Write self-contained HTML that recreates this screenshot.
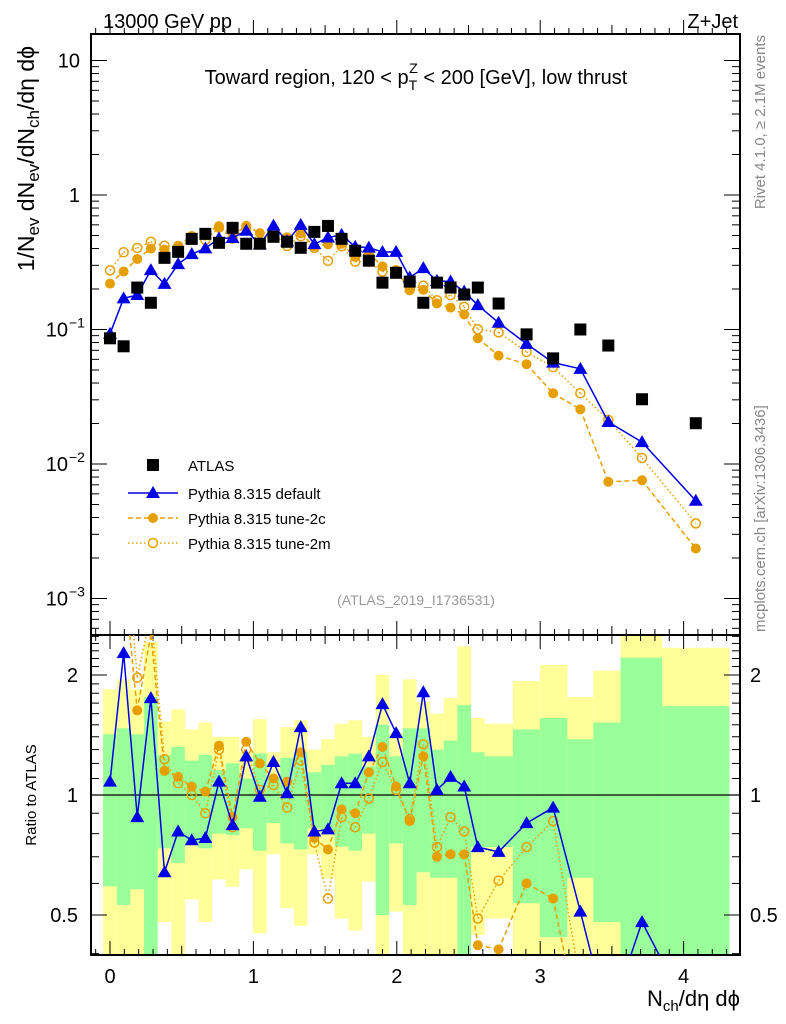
<!DOCTYPE html>
<html><head><meta charset="utf-8"><style>
html,body{margin:0;padding:0;background:#fff;width:786px;height:1024px;overflow:hidden;}
svg{display:block;font-family:"Liberation Sans",sans-serif;}
</style></head><body>
<svg id="chart" width="786" height="1024" viewBox="0 0 786 1024" xmlns="http://www.w3.org/2000/svg">
<g id="bands"></g>
<g id="axes"></g>
<g id="series"></g>
<text x="103" y="28" font-size="20">13000 GeV pp</text>
<text x="738" y="28" font-size="20" text-anchor="end">Z+Jet</text>
<text x="416" y="84" font-size="20" text-anchor="middle">Toward region, 120 &lt; p<tspan font-size="14" dy="6">T</tspan><tspan font-size="14" dx="-8" dy="-17">Z</tspan><tspan dy="11"> &lt; 200 [GeV], low thrust</tspan></text>
<text x="416" y="605" font-size="14" fill="#999" text-anchor="middle">(ATLAS_2019_I1736531)</text>
<text transform="translate(765,35) rotate(-90)" font-size="15" fill="#888" text-anchor="end">Rivet 4.1.0, ≥ 2.1M events</text>
<text transform="translate(765,632) rotate(-90)" font-size="15" fill="#888" text-anchor="start">mcplots.cern.ch [arXiv:1306.3436]</text>
<text transform="translate(34,46) rotate(-90)" font-size="23" text-anchor="end">1/N<tspan font-size="17" dy="5">ev</tspan><tspan dy="-5"> dN</tspan><tspan font-size="17" dy="5">ev</tspan><tspan dy="-5">/dN</tspan><tspan font-size="17" dy="5">ch</tspan><tspan dy="-5">/dη dϕ</tspan></text>
<text transform="translate(36,795) rotate(-90)" font-size="15" text-anchor="middle">Ratio to ATLAS</text>
<text x="740" y="1006" font-size="22" text-anchor="end">N<tspan font-size="15" dy="5">ch</tspan><tspan dy="-5">/dη dϕ</tspan></text>
<g id="legend">
<rect x="147" y="459" width="12" height="12" fill="#000"/>
<text x="188" y="471" font-size="15">ATLAS</text>
<line x1="128" y1="493" x2="178" y2="493" stroke="#0000e6" stroke-width="1.5"/>
<path d="M153,486 L160,498 L146,498 Z" fill="#0000e6"/>
<text x="188" y="499" font-size="15">Pythia 8.315 default</text>
<line x1="128" y1="518" x2="178" y2="518" stroke="#e69f00" stroke-width="1.5" stroke-dasharray="5,3"/>
<circle cx="153" cy="518" r="5" fill="#e69f00"/>
<text x="188" y="524" font-size="15">Pythia 8.315 tune-2c</text>
<line x1="128" y1="543" x2="178" y2="543" stroke="#e69f00" stroke-width="1.5" stroke-dasharray="1.5,2.5"/>
<circle cx="153" cy="543" r="4.5" fill="#fff" stroke="#e69f00" stroke-width="1.5"/>
<text x="188" y="549" font-size="15">Pythia 8.315 tune-2m</text>
</g>
</svg>
<script>
var xVals=[0,0.095,0.19,0.285,0.38,0.475,0.57,0.665,0.76,0.855,0.95,1.045,1.14,1.235,1.33,1.425,1.52,1.615,1.71,1.805,1.9,1.995,2.09,2.185,2.28,2.375,2.47,2.565,2.71,2.905,3.09,3.28,3.475,3.71,4.085];
var binEdges=[-0.0475,0.0475,0.1425,0.2375,0.3325,0.4275,0.5225,0.6175,0.7125,0.8075,0.9025,0.9975,1.0925,1.1875,1.2825,1.3775,1.4725,1.5675,1.6625,1.7575,1.8525,1.9475,2.0425,2.1375,2.2325,2.3275,2.4225,2.5175,2.6125,2.81,3.0,3.19,3.37,3.56,3.85,4.32];
var atlasVals=[0.086,0.075,0.205,0.158,0.341,0.378,0.472,0.514,0.441,0.570,0.434,0.434,0.489,0.449,0.405,0.532,0.589,0.472,0.385,0.325,0.223,0.264,0.227,0.158,0.223,0.205,0.182,0.205,0.156,0.092,0.061,0.100,0.076,0.0303,0.0201];
var ratioDefault=[1.08,2.27,0.88,1.75,0.64,0.81,0.77,0.78,1.08,0.84,1.25,0.99,1.21,1.01,1.48,0.81,0.82,1.07,1.07,1.25,1.69,1.43,1.07,1.81,1.03,1.11,1.05,0.74,0.72,0.85,0.93,0.51,0.27,0.48,0.265];
var ratioTune2c=[2.55,3.6,1.63,2.53,1.15,1.11,1.05,1.02,1.33,0.88,1.36,1.2,1.10,1.08,1.28,0.78,0.73,0.92,0.90,1.14,1.32,1.05,0.86,1.25,0.70,0.71,0.71,0.42,0.41,0.60,0.55,0.255,0.097,0.25,0.117];
var ratioTune2m=[3.2,5.0,1.97,2.84,1.23,1.07,1.0,0.90,1.3,0.83,1.3,1.03,1.06,0.93,1.22,0.76,0.55,0.88,0.83,0.98,1.21,1.03,0.87,1.34,0.74,0.88,0.81,0.49,0.61,0.74,0.86,0.336,0.28,0.366,0.18];
var bandYellowHi=[1.84,1.95,1.84,2.42,1.53,1.64,1.46,1.52,1.40,1.40,1.28,1.55,1.28,1.48,1.54,1.30,1.38,1.51,1.54,1.40,2.0,1.43,1.95,1.71,1.60,1.75,2.36,1.56,1.51,1.93,2.12,1.76,2.05,2.6,2.34];
var bandGreenHi=[1.42,1.47,1.42,1.76,1.26,1.32,1.22,1.26,1.155,1.2,1.10,1.27,1.11,1.24,1.28,1.14,1.19,1.25,1.27,1.18,1.50,1.25,1.47,1.47,1.30,1.37,1.68,1.28,1.25,1.46,1.56,1.38,1.52,2.21,1.67];
var bandGreenLo=[0.59,0.53,0.58,0.3,0.735,0.676,0.756,0.735,0.80,0.794,0.825,0.725,0.85,0.756,0.73,0.825,0.80,0.742,0.725,0.80,0.5,0.756,0.53,0.64,0.62,0.62,0.3,0.74,0.74,0.535,0.44,0.62,0.48,0.3,0.3];
var bandYellowLo=[0.3,0.3,0.3,0.3,0.48,0.3,0.547,0.48,0.614,0.589,0.651,0.45,0.71,0.52,0.47,0.71,0.618,0.49,0.457,0.606,0.3,0.51,0.3,0.3,0.3,0.3,0.3,0.445,0.49,0.3,0.3,0.3,0.3,0.3,0.3];
var xTicks=[0,1,2,3,4];

var NS="http://www.w3.org/2000/svg";
var L=91,R=740,MT=34,MB=635,RB=955;
function X(v){return 110+143.4*v;}
function YM(v){return 195-134.5*Math.log10(v);}
function YR(r){return 795-120*Math.log2(r);}
function cl(y,a,b){return Math.max(a,Math.min(b,y));}
function mk(tag,attrs,parent){var e=document.createElementNS(NS,tag);for(var k in attrs)e.setAttribute(k,attrs[k]);parent.appendChild(e);return e;}
var svg=document.getElementById('chart');
var bandsG=document.getElementById('bands');
for(var i=0;i<xVals.length;i++){
 var x0=Math.max(L,X(binEdges[i])),x1=Math.min(R,X(binEdges[i+1]));
 var yt=cl(YR(bandYellowHi[i]),MB,RB),yb=cl(YR(bandYellowLo[i]),MB,RB);
 var y=mk('rect',{x:x0,y:yt,width:x1-x0,height:yb-yt,fill:'#ffff99'},bandsG);
 
 
 var gt=cl(YR(bandGreenHi[i]),MB,RB),gb=cl(YR(bandGreenLo[i]),MB,RB);
 var g=mk('rect',{x:x0,y:gt,width:x1-x0,height:gb-gt,fill:'#99ff99'},bandsG);
 
 
}
var ax=document.getElementById('axes');
mk('line',{x1:L,y1:YR(1),x2:R,y2:YR(1),stroke:'#000','stroke-width':1.2},ax);
mk('rect',{x:L,y:MT,width:R-L,height:MB-MT,fill:'none',stroke:'#000','stroke-width':2},ax);
mk('rect',{x:L,y:MB,width:R-L,height:RB-MB,fill:'none',stroke:'#000','stroke-width':2},ax);
for(var t=-1;t<=44;t++){
 var v=t/10;var xx=X(v);if(xx<L+1||xx>R-1)continue;
 var len=(t%10===0)?14:((t%5===0)?9:6);
 [MT,MB,RB].forEach(function(yb){
  mk('line',{x1:xx,y1:yb,x2:xx,y2:yb-len,stroke:'#000','stroke-width':1},ax);
  if(yb===MB) mk('line',{x1:xx,y1:yb,x2:xx,y2:yb+len,stroke:'#000','stroke-width':1},ax);
 });
}
xTicks.forEach(function(v){var t=mk('text',{x:X(v),y:983,'font-size':20,'text-anchor':'middle'},ax);t.textContent=v;
 
 });
for(var d=-4;d<=1;d++){for(var m=1;m<=9;m++){var val=m*Math.pow(10,d);var yy=YM(val);if(yy<MT+1||yy>MB-1)continue;
 var len=m===1?16:8;
 mk('line',{x1:L,y1:yy,x2:L+len,y2:yy,stroke:'#000','stroke-width':1},ax);
 mk('line',{x1:R,y1:yy,x2:R-len,y2:yy,stroke:'#000','stroke-width':1},ax);}}
var ylabs=[[10,'10',''],[1,'1',''],[0.1,'10','−1'],[0.01,'10','−2'],[0.001,'10','−3']];
ylabs.forEach(function(a){var t=mk('text',{x:a[2]?68:80,y:YM(a[0])+7,'font-size':20,'text-anchor':'end'},ax);t.textContent=a[1];
 
 
 if(a[2]){var s=mk('text',{x:69,y:YM(a[0])-2,'font-size':14},ax);s.textContent=a[2];}});
var rt=[0.4,0.5,0.6,0.7,0.8,0.9,1,1.1,1.2,1.3,1.4,1.5,1.6,1.7,1.8,1.9,2,2.1,2.2,2.3,2.4,2.5];
rt.forEach(function(r){var yy=YR(r);if(yy<MB+1||yy>RB-1)return;var len=(r===0.5||r===1||r===2)?16:8;
 mk('line',{x1:L,y1:yy,x2:L+len,y2:yy,stroke:'#000','stroke-width':1},ax);
 mk('line',{x1:R,y1:yy,x2:R-len,y2:yy,stroke:'#000','stroke-width':1},ax);});
[[2,'2'],[1,'1'],[0.5,'0.5']].forEach(function(a){
 var t=mk('text',{x:78,y:YR(a[0])+7,'font-size':20,'text-anchor':'end'},ax);t.textContent=a[1];
 
 
 var t2=mk('text',{x:750,y:YR(a[0])+7,'font-size':20},ax);t2.textContent=a[1];
 
 });
// clip a polyline to [ya,yb] in y, returning path string
function clipPath(pts,ya,yb){
 var d='';
 for(var i=0;i<pts.length-1;i++){
  var p=pts[i],q=pts[i+1];
  var t0=0,t1=1,dy=q[1]-p[1];
  if(dy===0){if(p[1]<ya||p[1]>yb)continue;}
  else{
   var ta=(ya-p[1])/dy,tb=(yb-p[1])/dy;
   var lo=Math.min(ta,tb),hi=Math.max(ta,tb);
   t0=Math.max(0,lo);t1=Math.min(1,hi);if(t0>=t1)continue;
  }
  var ax1=p[0]+(q[0]-p[0])*t0,ay1=p[1]+dy*t0,ax2=p[0]+(q[0]-p[0])*t1,ay2=p[1]+dy*t1;
  d+='M'+ax1.toFixed(2)+','+ay1.toFixed(2)+'L'+ax2.toFixed(2)+','+ay2.toFixed(2);
 }
 return d;
}
var sg=document.getElementById('series');
var gm=mk('g',{},sg);
var gr=mk('g',{},sg);
var series=[{r:ratioTune2m,c:'#e69f00',dash:'1.5,2.5',m:'open',n:'tune-2m'},{r:ratioTune2c,c:'#e69f00',dash:'5,3',m:'fill',n:'tune-2c'},{r:ratioDefault,c:'#0000e6',dash:'',m:'tri',n:'default'}];
function marker(g,m,c,x,y,name){var e;
 if(m==='tri'){e=mk('path',{d:'M'+x+','+(y-7)+' L'+(x+7)+','+(y+5)+' L'+(x-7)+','+(y+5)+' Z',fill:c},g);}
 else if(m==='fill'){e=mk('circle',{cx:x,cy:y,r:5,fill:c},g);}
 else {e=mk('circle',{cx:x,cy:y,r:4.5,fill:'#fff','fill-opacity':0,stroke:c,'stroke-width':1.5},g);}
 
 }
series.forEach(function(s){
 var pm=[],pr=[];
 for(var i=0;i<xVals.length;i++){pm.push([X(xVals[i]),YM(atlasVals[i]*s.r[i])]);pr.push([X(xVals[i]),YR(s.r[i])]);}
 var a={d:clipPath(pm,MT,MB),fill:'none',stroke:s.c,'stroke-width':1.5};if(s.dash)a['stroke-dasharray']=s.dash;
 var l1=mk('path',a,gm);
 
 
 var b={d:clipPath(pr,MB,RB),fill:'none',stroke:s.c,'stroke-width':1.5};if(s.dash)b['stroke-dasharray']=s.dash;
 var l2=mk('path',b,gr);
 
 
 for(var i=0;i<xVals.length;i++){
  if(pm[i][1]>MT+5&&pm[i][1]<MB-5) marker(gm,s.m,s.c,pm[i][0],pm[i][1],'point-'+s.n);
  if(pr[i][1]>MB+5&&pr[i][1]<RB-5) marker(gr,s.m,s.c,pr[i][0],pr[i][1],'ratio-point-'+s.n);
 }
});
for(var i=0;i<xVals.length;i++){
 var q=mk('rect',{x:X(xVals[i])-6,y:YM(atlasVals[i])-6,width:12,height:12,fill:'#000'},gm);
 
 
}
</script>
</body></html>
